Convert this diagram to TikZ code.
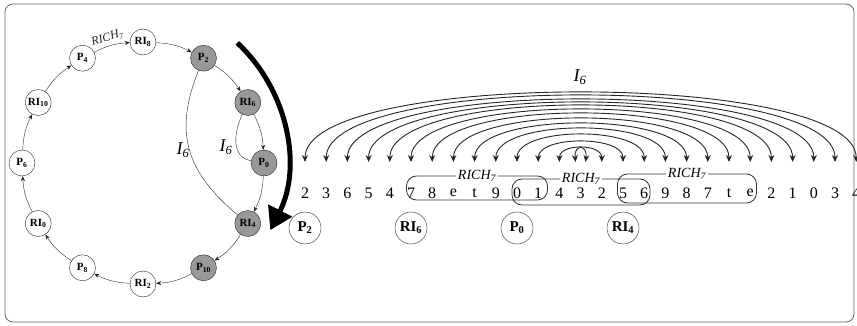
\documentclass[tikz,border=0pt]{standalone}
\usepackage{fontspec}
\setmainfont{Liberation Serif}
\usetikzlibrary{arrows.meta}
\newcommand{\pn}[2]{\textbf{#1\textsubscript{#2}}}
\newcommand{\rich}{\textit{RICH\textsubscript{7}}}
\newcommand{\isix}{\textit{I\textsubscript{6}}}

\begin{document}
\begin{tikzpicture}[x=1pt, y=1pt,
  pnode/.style={circle, draw=black!85, fill=white, minimum size=26pt, inner sep=0pt, font=\fontsize{11}{12}\selectfont},
  hit/.style={pnode, fill=black!40},
  big/.style={circle, draw=black!85, minimum size=32pt, inner sep=0pt, font=\fontsize{15}{16}\selectfont},
  ring/.style={-{Stealth[length=5pt,width=4pt]}, black!85, bend left=12},
  refl/.style={{Stealth[length=7pt,width=6pt]}-{Stealth[length=7pt,width=6pt]}, black!85, line width=0.9pt},
  richbox/.style={draw=black!80, rounded corners=10pt, line width=0.8pt},
  richlab/.style={fill=white, inner sep=1.5pt, font=\fontsize{14}{15}\selectfont},
  digit/.style={inner sep=0pt, font=\fontsize{16}{18}\selectfont},
  heavy/.style={line width=5pt, -{Triangle[length=22pt, width=26pt]}},
]
  \useasboundingbox (0,0) rectangle (857,-326);
  \draw[black!60, line width=0.8pt, rounded corners=8pt] (5,-4) rectangle (854,-322);

  \foreach \n/\a/\t/\s in {RI8/90/\pn{RI}{8}/pnode, P2/60/\pn{P}{2}/hit, RI6/30/\pn{RI}{6}/hit,
      P0/0/\pn{P}{0}/hit, RI4/-30/\pn{RI}{4}/hit, P10/-60/\pn{P}{10}/hit, RI2/-90/\pn{RI}{2}/pnode,
      P8/-120/\pn{P}{8}/pnode, RI0/-150/\pn{RI}{0}/pnode, P6/180/\pn{P}{6}/pnode,
      RI10/150/\pn{RI}{10}/pnode, P4/120/\pn{P}{4}/pnode}
    \node[\s] (\n) at ([shift={(143,-163)}]\a:121) {\t};

  \draw[ring] (P4) to node[above, sloped, pos=0.45, font=\fontsize{12}{13}\selectfont] {\rich} (RI8);
  \foreach \a/\b in {RI8/P2, P2/RI6, RI6/P0, P0/RI4, RI4/P10, P10/RI2, RI2/P8, P8/RI0, RI0/P6, P6/RI10, RI10/P4}
    \draw[ring] (\a) to (\b);

  \draw[black!85] (P2) to[out=248, in=140, looseness=1.15] (RI4);
  \draw[black!85] (RI6) to[out=245, in=170, looseness=1.1] (P0);
  \node[font=\fontsize{18}{20}\selectfont] (i6big) at (183,-150) {\isix};
  \node[font=\fontsize{18}{20}\selectfont] (i6small) at (226,-147) {\isix};

  \coordinate (turn) at ([shift={(129.5,-158.4)}]47:158);
  \draw[heavy] (turn) arc[start angle=47, end angle=-27, radius=158];

  \foreach \d [count=\i from 0] in {2,3,6,5,4,7,8,e,t,9,0,1,4,3,2,5,6,9,8,7,t,e,2,1,0,3,4} {
    \node[digit] (s\i) at ({305+21.2*\i}, -193) {\d};
    \coordinate (t\i) at ({305+21.2*\i}, -162);
  }

  \foreach \i/\h in {0/69,1/66,2/62,3/59,4/56,5/52,6/48,7/43,8/38,9/33,10/27,11/20,12/14} {
    \pgfmathtruncatemacro\j{26-\i}
    \pgfmathsetmacro\hh{\h/0.75}
    \draw[refl] (t\i) .. controls +(0,\hh) and +(0,\hh) .. (t\j);
  }
  \coordinate (la) at ([xshift=-5pt]t13);
  \coordinate (lb) at ([xshift=5pt]t13);
  \draw[refl] (la) .. controls +(-2,18) and +(2,18) .. (lb);
  \node[font=\fontsize{18}{20}\selectfont] (i6top) at (580,-77) {\isix};

  \node[richbox, minimum width=141pt, minimum height=24pt] (rA) at (477,-188) {};
  \node[richbox, minimum width=138pt, minimum height=26pt] (rB) at (581,-192) {};
  \node[richbox, minimum width=139pt, minimum height=29pt] (rC) at (687,-188.5) {};
  \node[richlab] (lA) at (rA.north) {\rich};
  \node[richlab] (lB) at (rB.north) {\rich};
  \node[richlab] (lC) at (rC.north) {\rich};

  \node[big] (bP2) at ([yshift=-35pt]s0) {\pn{P}{2}};
  \node[big] (bRI6) at ([yshift=-35pt]s5) {\pn{RI}{6}};
  \node[big] (bP0) at ([yshift=-35pt]s10) {\pn{P}{0}};
  \node[big] (bRI4) at ([yshift=-35pt]s15) {\pn{RI}{4}};
\end{tikzpicture}
\end{document}
